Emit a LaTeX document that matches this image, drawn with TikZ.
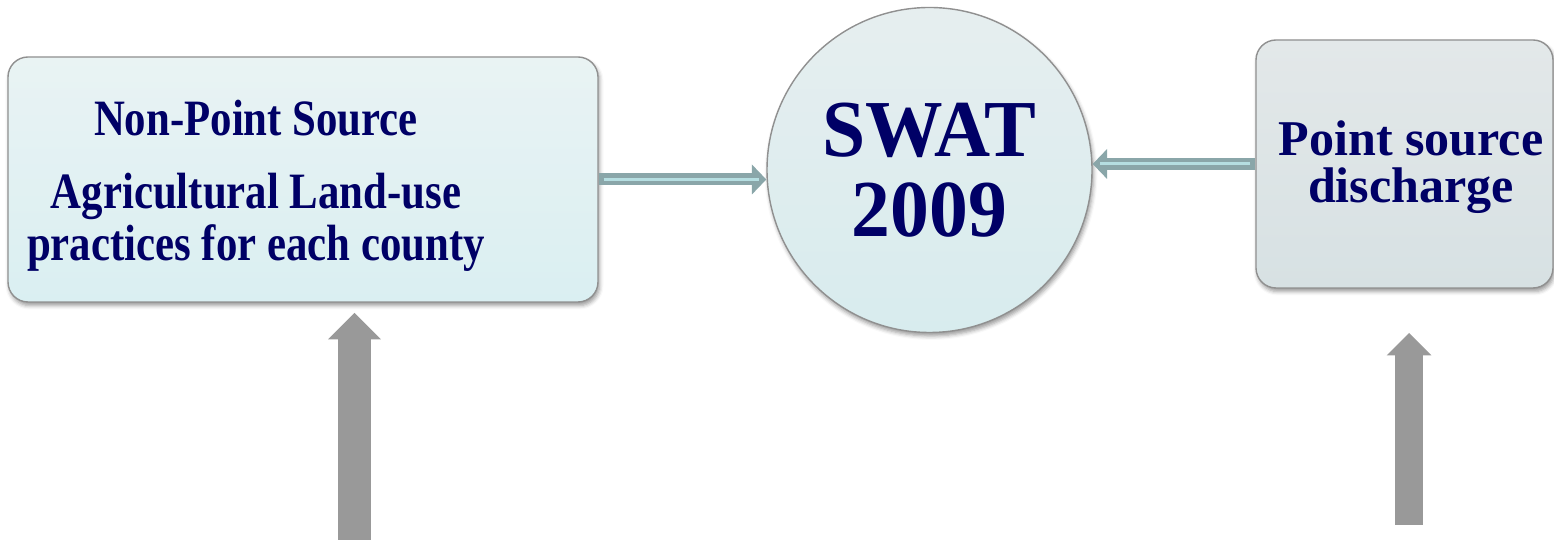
\documentclass[tikz,border=0pt]{standalone}
\usepackage{fontspec}
\usepackage{xcolor}
\usetikzlibrary{arrows.meta,positioning,shadows.blur,calc}
\setmainfont{Liberation Serif}
\newfontfamily\npsfont[FakeStretch=0.84]{Liberation Serif}
\newfontfamily\swatfont[FakeStretch=0.96]{Liberation Serif}
\definecolor{navytext}{HTML}{000066}
\definecolor{boxline}{HTML}{909090}
\definecolor{npstop}{HTML}{E9F3F3}
\definecolor{npsbottom}{HTML}{DAEFF2}
\definecolor{swattop}{HTML}{E6EEEF}
\definecolor{swatbottom}{HTML}{D8ECEE}
\definecolor{psdtop}{HTML}{E3E8E9}
\definecolor{psdbottom}{HTML}{D7E1E3}
\definecolor{flowedge}{HTML}{8AA6A9}
\definecolor{flowcore}{HTML}{B5DEE1}
\definecolor{arrowgray}{HTML}{999999}

\begin{document}
\begin{tikzpicture}[
  box/.style={draw=boxline,line width=0.8pt,text=navytext,align=center,inner sep=0pt,
    blur shadow={shadow xshift=0.3mm,shadow yshift=-0.7mm,shadow blur radius=0.8mm,shadow opacity=40}},
  boxtext/.style={text=navytext,align=center,inner sep=0pt},
  flow/.style={draw=flowedge,line width=2.4mm,-{Triangle[length=0pt 1.2,width=0pt 2.5,line width=0pt]}},
  core/.style={draw=flowcore,line width=0.6mm,shorten >=1.4mm,shorten <=1mm},
  bigarrow/.style={draw=arrowgray,line width=#1,-{Triangle[length=0pt 0.8,width=0pt 1.6,line width=0pt]}}
]
\useasboundingbox (0,0) rectangle (31.08,10.8);
% Left: non-point source box
\node[box,rounded corners=0.4cm,minimum width=11.8cm,minimum height=4.9cm,
  top color=npstop,bottom color=npsbottom] (nps) at (6.06,7.21) {};
\node[boxtext,font=\npsfont\bfseries\fontsize{29}{29.5}\selectfont]
  (nps-text) at ($(nps.center)+(-0.94,-0.12)$)
  {Non-Point Source\\[12pt]Agricultural Land-use\\practices for each county};
% Middle: model
\node[box,circle,minimum size=6.5cm,
  top color=swattop,bottom color=swatbottom,
  font=\swatfont\bfseries\fontsize{46}{45.4}\selectfont] (swat) at (18.59,7.4)
  {SWAT\\2009};
% Right: point source box
\node[box,rounded corners=0.4cm,minimum width=5.94cm,minimum height=4.96cm,
  top color=psdtop,bottom color=psdbottom] (psd) at (28.09,7.52) {};
\node[boxtext,font=\bfseries\fontsize{28.5}{26.6}\selectfont]
  (psd-text) at ($(psd.center)+(0.13,-0.06)$)
  {Point source\\discharge};
% Free ends of the input arrows
\coordinate (nps-tail) at (7.09,0);
\coordinate (nps-tip) at (7.09,4.54);
\coordinate (psd-tail) at (28.18,0.3);
\coordinate (psd-tip) at (28.18,4.14);
% Connectors
\draw[flow] (nps.east) -- (nps.east -| swat.west);
\draw[core] (nps.east) -- (nps.east -| swat.west);
\draw[flow] (psd.west) -- (psd.west -| swat.east);
\draw[core] (psd.west) -- (psd.west -| swat.east);
\draw[bigarrow=6.6mm] (nps-tail) -- (nps-tip);
\draw[bigarrow=5.6mm] (psd-tail) -- (psd-tip);
\end{tikzpicture}
\end{document}
